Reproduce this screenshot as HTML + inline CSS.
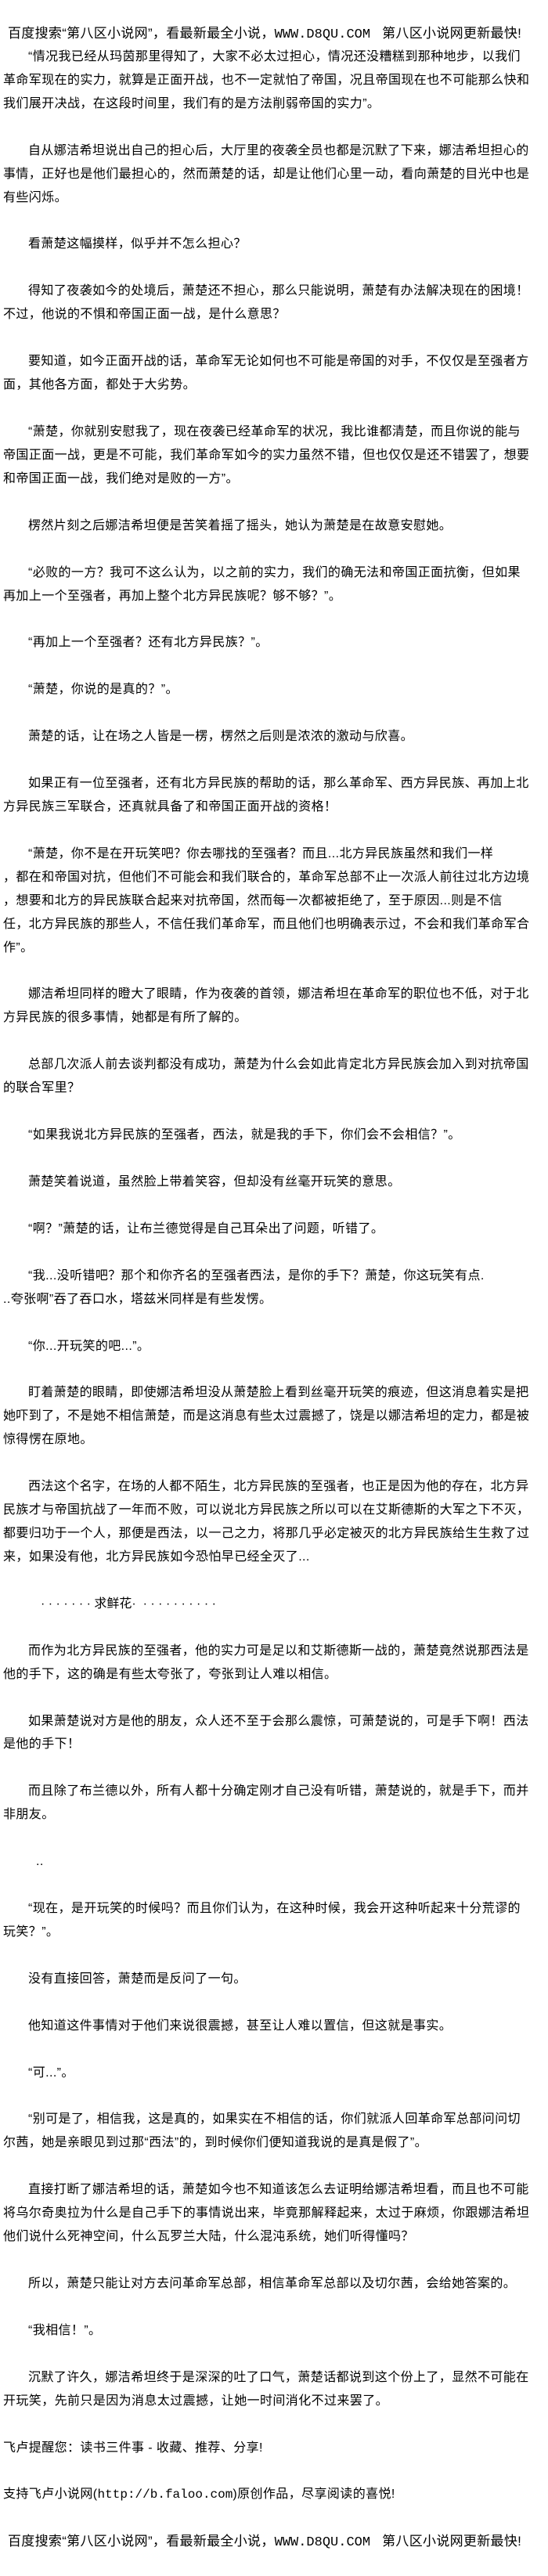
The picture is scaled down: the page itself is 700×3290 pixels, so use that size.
<!DOCTYPE html>
<html><head><meta charset="utf-8">
<style>
html,body{margin:0;padding:0;background:#fff;}
body{width:700px;height:3290px;overflow:hidden;font-family:"Liberation Sans","Noto Sans CJK SC",sans-serif;color:#000;}
.w{padding-top:28px;padding-left:4px;}
.l{height:29.95px;line-height:29.95px;font-size:16px;letter-spacing:0.4px;white-space:nowrap;}
.i{padding-left:32px;}
.h{font-size:17px;letter-spacing:0.3px;padding-left:6px;}
.m{font-family:"Liberation Mono","Noto Sans CJK SC",monospace;letter-spacing:0;}
</style></head><body><div class="w">
<div class="l h">百度搜索“第八区小说网”，看最新最全小说，<span class="m">WWW.D8QU.COM</span>&nbsp;&nbsp; 第八区小说网更新最快!</div>
<div class="l i">“情况我已经从玛茵那里得知了，大家不必太过担心，情况还没糟糕到那种地步，以我们</div>
<div class="l">革命军现在的实力，就算是正面开战，也不一定就怕了帝国，况且帝国现在也不可能那么快和</div>
<div class="l">我们展开决战，在这段时间里，我们有的是方法削弱帝国的实力”。</div>
<div class="l"></div>
<div class="l i">自从娜洁希坦说出自己的担心后，大厅里的夜袭全员也都是沉默了下来，娜洁希坦担心的</div>
<div class="l">事情，正好也是他们最担心的，然而萧楚的话，却是让他们心里一动，看向萧楚的目光中也是</div>
<div class="l">有些闪烁。</div>
<div class="l"></div>
<div class="l i">看萧楚这幅摸样，似乎并不怎么担心？</div>
<div class="l"></div>
<div class="l i">得知了夜袭如今的处境后，萧楚还不担心，那么只能说明，萧楚有办法解决现在的困境！</div>
<div class="l">不过，他说的不惧和帝国正面一战，是什么意思？</div>
<div class="l"></div>
<div class="l i">要知道，如今正面开战的话，革命军无论如何也不可能是帝国的对手，不仅仅是至强者方</div>
<div class="l">面，其他各方面，都处于大劣势。</div>
<div class="l"></div>
<div class="l i">“萧楚，你就别安慰我了，现在夜袭已经革命军的状况，我比谁都清楚，而且你说的能与</div>
<div class="l">帝国正面一战，更是不可能，我们革命军如今的实力虽然不错，但也仅仅是还不错罢了，想要</div>
<div class="l">和帝国正面一战，我们绝对是败的一方”。</div>
<div class="l"></div>
<div class="l i">楞然片刻之后娜洁希坦便是苦笑着摇了摇头，她认为萧楚是在故意安慰她。</div>
<div class="l"></div>
<div class="l i">“必败的一方？我可不这么认为，以之前的实力，我们的确无法和帝国正面抗衡，但如果</div>
<div class="l">再加上一个至强者，再加上整个北方异民族呢？够不够？”。</div>
<div class="l"></div>
<div class="l i">“再加上一个至强者？还有北方异民族？”。</div>
<div class="l"></div>
<div class="l i">“萧楚，你说的是真的？”。</div>
<div class="l"></div>
<div class="l i">萧楚的话，让在场之人皆是一楞，楞然之后则是浓浓的激动与欣喜。</div>
<div class="l"></div>
<div class="l i">如果正有一位至强者，还有北方异民族的帮助的话，那么革命军、西方异民族、再加上北</div>
<div class="l">方异民族三军联合，还真就具备了和帝国正面开战的资格！</div>
<div class="l"></div>
<div class="l i">“萧楚，你不是在开玩笑吧？你去哪找的至强者？而且...北方异民族虽然和我们一样</div>
<div class="l">，都在和帝国对抗，但他们不可能会和我们联合的，革命军总部不止一次派人前往过北方边境</div>
<div class="l">，想要和北方的异民族联合起来对抗帝国，然而每一次都被拒绝了，至于原因...则是不信</div>
<div class="l">任，北方异民族的那些人，不信任我们革命军，而且他们也明确表示过，不会和我们革命军合</div>
<div class="l">作”。</div>
<div class="l"></div>
<div class="l i">娜洁希坦同样的瞪大了眼睛，作为夜袭的首领，娜洁希坦在革命军的职位也不低，对于北</div>
<div class="l">方异民族的很多事情，她都是有所了解的。</div>
<div class="l"></div>
<div class="l i">总部几次派人前去谈判都没有成功，萧楚为什么会如此肯定北方异民族会加入到对抗帝国</div>
<div class="l">的联合军里？</div>
<div class="l"></div>
<div class="l i">“如果我说北方异民族的至强者，西法，就是我的手下，你们会不会相信？”。</div>
<div class="l"></div>
<div class="l i">萧楚笑着说道，虽然脸上带着笑容，但却没有丝毫开玩笑的意思。</div>
<div class="l"></div>
<div class="l i">“啊？”萧楚的话，让布兰德觉得是自己耳朵出了问题，听错了。</div>
<div class="l"></div>
<div class="l i">“我...没听错吧？那个和你齐名的至强者西法，是你的手下？萧楚，你这玩笑有点.</div>
<div class="l">..夸张啊”吞了吞口水，塔兹米同样是有些发愣。</div>
<div class="l"></div>
<div class="l i">“你...开玩笑的吧...”。</div>
<div class="l"></div>
<div class="l i">盯着萧楚的眼睛，即使娜洁希坦没从萧楚脸上看到丝毫开玩笑的痕迹，但这消息着实是把</div>
<div class="l">她吓到了，不是她不相信萧楚，而是这消息有些太过震撼了，饶是以娜洁希坦的定力，都是被</div>
<div class="l">惊得愣在原地。</div>
<div class="l"></div>
<div class="l i">西法这个名字，在场的人都不陌生，北方异民族的至强者，也正是因为他的存在，北方异</div>
<div class="l">民族才与帝国抗战了一年而不败，可以说北方异民族之所以可以在艾斯德斯的大军之下不灭，</div>
<div class="l">都要归功于一个人，那便是西法，以一己之力，将那几乎必定被灭的北方异民族给生生救了过</div>
<div class="l">来，如果没有他，北方异民族如今恐怕早已经全灭了...</div>
<div class="l"></div>
<div class="l" style="padding-left:48px;letter-spacing:0">·&nbsp;·&nbsp;·&nbsp;·&nbsp;·&nbsp;·&nbsp;·&nbsp;求鲜花·&nbsp;&nbsp;·&nbsp;·&nbsp;·&nbsp;·&nbsp;·&nbsp;·&nbsp;·&nbsp;·&nbsp;·&nbsp;·</div>
<div class="l"></div>
<div class="l i">而作为北方异民族的至强者，他的实力可是足以和艾斯德斯一战的，萧楚竟然说那西法是</div>
<div class="l">他的手下，这的确是有些太夸张了，夸张到让人难以相信。</div>
<div class="l"></div>
<div class="l i">如果萧楚说对方是他的朋友，众人还不至于会那么震惊，可萧楚说的，可是手下啊！西法</div>
<div class="l">是他的手下！</div>
<div class="l"></div>
<div class="l i">而且除了布兰德以外，所有人都十分确定刚才自己没有听错，萧楚说的，就是手下，而并</div>
<div class="l">非朋友。</div>
<div class="l"></div>
<div class="l" style="padding-left:42px">..</div>
<div class="l"></div>
<div class="l i">“现在，是开玩笑的时候吗？而且你们认为，在这种时候，我会开这种听起来十分荒谬的</div>
<div class="l">玩笑？”。</div>
<div class="l"></div>
<div class="l i">没有直接回答，萧楚而是反问了一句。</div>
<div class="l"></div>
<div class="l i">他知道这件事情对于他们来说很震撼，甚至让人难以置信，但这就是事实。</div>
<div class="l"></div>
<div class="l i">“可...”。</div>
<div class="l"></div>
<div class="l i">“别可是了，相信我，这是真的，如果实在不相信的话，你们就派人回革命军总部问问切</div>
<div class="l">尔茜，她是亲眼见到过那“西法”的，到时候你们便知道我说的是真是假了”。</div>
<div class="l"></div>
<div class="l i">直接打断了娜洁希坦的话，萧楚如今也不知道该怎么去证明给娜洁希坦看，而且也不可能</div>
<div class="l">将乌尔奇奥拉为什么是自己手下的事情说出来，毕竟那解释起来，太过于麻烦，你跟娜洁希坦</div>
<div class="l">他们说什么死神空间，什么瓦罗兰大陆，什么混沌系统，她们听得懂吗？</div>
<div class="l"></div>
<div class="l i">所以，萧楚只能让对方去问革命军总部，相信革命军总部以及切尔茜，会给她答案的。</div>
<div class="l"></div>
<div class="l i">“我相信！”。</div>
<div class="l"></div>
<div class="l i">沉默了许久，娜洁希坦终于是深深的吐了口气，萧楚话都说到这个份上了，显然不可能在</div>
<div class="l">开玩笑，先前只是因为消息太过震撼，让她一时间消化不过来罢了。</div>
<div class="l"></div>
<div class="l">飞卢提醒您：读书三件事 - 收藏、推荐、分享!</div>
<div class="l"></div>
<div class="l">支持飞卢小说网(<span class="m">http://b.faloo.com</span>)原创作品，尽享阅读的喜悦!</div>
<div class="l"></div>
<div class="l h">百度搜索“第八区小说网”，看最新最全小说，<span class="m">WWW.D8QU.COM</span>&nbsp;&nbsp; 第八区小说网更新最快!</div>
</div></body></html>
